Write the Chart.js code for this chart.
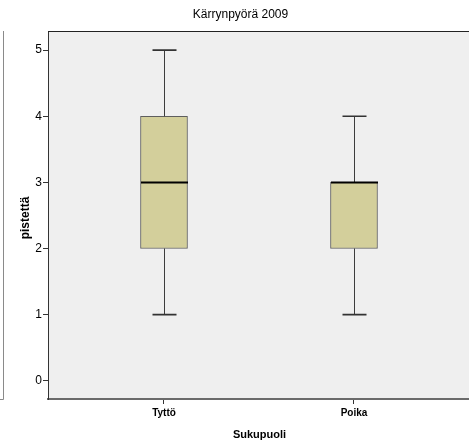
<!DOCTYPE html>
<html>
<head>
<meta charset="utf-8">
<script src="https://cdn.jsdelivr.net/npm/chart.js@4"></script>
<style>
  html, body { margin: 0; padding: 0; background: #ffffff; }
  #wrap { width: 469px; height: 446px; }
</style>
</head>
<body>
<div id="wrap"><canvas id="c" width="469" height="446"></canvas></div>
<script>
// Box plot summary per group
const categories = ['Tyttö', 'Poika'];
const minVals    = [1, 1];
const q1Vals     = [2, 2];
const medianVals = [3, 3];
const q3Vals     = [4, 3];
const maxVals    = [5, 4];
const yTicks     = [0, 1, 2, 3, 4, 5];

const chartTitle = 'Kärrynpyörä 2009';
const xTitle = 'Sukupuoli';
const yTitle = 'pistettä';

const FONT = "'Liberation Sans', Arial, sans-serif";
const NARROW = "'Liberation Sans Narrow', 'Liberation Sans', Arial, sans-serif";

// Plot background, frame, titles and the neighbouring panel edge
const framePlugin = {
  id: 'frame',
  beforeDraw(chart) {
    const { ctx, chartArea: a } = chart;
    ctx.save();
    ctx.fillStyle = '#efefef';
    ctx.fillRect(a.left, a.top, a.right - a.left, a.bottom - a.top);
    ctx.restore();
  },
  afterDraw(chart) {
    const { ctx, chartArea: a } = chart;
    ctx.save();
    // top edge of plot frame
    ctx.strokeStyle = '#222';
    ctx.lineWidth = 1;
    ctx.beginPath();
    ctx.moveTo(a.left, Math.round(a.top) + 0.5);
    ctx.lineTo(a.right, Math.round(a.top) + 0.5);
    ctx.stroke();
    // edge of the adjacent panel at far left
    ctx.strokeStyle = '#8a8a8a';
    ctx.beginPath();
    ctx.moveTo(3.5, Math.round(a.top));
    ctx.lineTo(3.5, Math.round(a.bottom) + 0.5);
    ctx.lineTo(0, Math.round(a.bottom) + 0.5);
    ctx.stroke();
    // titles
    ctx.fillStyle = '#000';
    ctx.textAlign = 'center';
    ctx.textBaseline = 'middle';
    ctx.font = '12px ' + FONT;
    ctx.fillText(chartTitle, 240.5, 15);
    ctx.font = 'bold 11px ' + FONT;
    ctx.fillText(xTitle, (a.left + a.right) / 2 + 1, 435);
    ctx.translate(26, 218);
    ctx.rotate(-Math.PI / 2);
    ctx.font = 'bold 12px ' + FONT;
    ctx.fillText(yTitle, 0, 0);
    ctx.restore();
  }
};

// Whiskers, caps and median lines, placed through the chart scales
const boxPlugin = {
  id: 'boxParts',
  afterDatasetsDraw(chart) {
    const { ctx, scales: { x, y } } = chart;
    const boxW = 47, capW = 24;
    ctx.save();
    categories.forEach((c, i) => {
      const cx = Math.round(x.getPixelForValue(i + 1)) + 0.5;
      const yMin = y.getPixelForValue(minVals[i]);
      const yQ1 = y.getPixelForValue(q1Vals[i]);
      const yMed = y.getPixelForValue(medianVals[i]);
      const yQ3 = y.getPixelForValue(q3Vals[i]);
      const yMax = y.getPixelForValue(maxVals[i]);
      // whisker stems
      ctx.strokeStyle = '#3c3c3c';
      ctx.lineWidth = 1;
      ctx.beginPath();
      ctx.moveTo(cx, yQ1); ctx.lineTo(cx, yMin);
      ctx.moveTo(cx, yQ3); ctx.lineTo(cx, yMax);
      ctx.stroke();
      // caps
      ctx.strokeStyle = '#333';
      ctx.lineWidth = 1.6;
      ctx.beginPath();
      ctx.moveTo(cx - capW / 2, yMin); ctx.lineTo(cx + capW / 2, yMin);
      ctx.moveTo(cx - capW / 2, yMax); ctx.lineTo(cx + capW / 2, yMax);
      ctx.stroke();
      // median
      ctx.strokeStyle = '#000';
      ctx.lineWidth = 2;
      ctx.beginPath();
      ctx.moveTo(cx - boxW / 2, yMed); ctx.lineTo(cx + boxW / 2, yMed);
      ctx.stroke();
    });
    ctx.restore();
  }
};

new Chart(document.getElementById('c'), {
  type: 'bar',
  data: {
    datasets: [{
      data: categories.map((c, i) => ({ x: i + 1, y: [q1Vals[i], q3Vals[i]] })),
      backgroundColor: '#d3cf9b',
      borderColor: '#5e5e5e',
      borderWidth: 1,
      borderSkipped: false,
      barThickness: 47
    }]
  },
  options: {
    responsive: false,
    animation: false,
    devicePixelRatio: 1,
    layout: { padding: { top: 31, right: 0, left: 0, bottom: 0 } },
    plugins: {
      legend: { display: false },
      title: { display: false },
      tooltip: { enabled: false }
    },
    scales: {
      x: {
        type: 'linear',
        offset: false,
        min: 0.3895,
        max: 2.6053,
        afterBuildTicks: s => { s.ticks = categories.map((c, i) => ({ value: i + 1 })); },
        afterFit: s => { s.height = 47; },
        grid: { offset: false, drawOnChartArea: false, drawTicks: true, tickLength: 5, color: '#333', lineWidth: 1 },
        border: { display: true, color: '#6a6a6a', width: 2 },
        ticks: {
          padding: 3,
          color: '#000',
          font: { family: FONT, size: 10, weight: 'bold' },
          callback: v => categories[Math.round(v) - 1]
        }
      },
      y: {
        type: 'linear',
        min: -0.277,
        max: 5.29,
        afterBuildTicks: s => { s.ticks = yTicks.map(v => ({ value: v })); },
        afterFit: s => { s.width = 48; },
        grid: { drawOnChartArea: false, drawTicks: true, tickLength: 5, color: '#333', lineWidth: 1 },
        border: { display: true, color: '#333', width: 1 },
        ticks: {
          padding: 1,
          color: '#000',
          font: { family: NARROW, size: 12 },
          callback: v => String(v)
        }
      }
    }
  },
  plugins: [framePlugin, boxPlugin]
});
</script>
</body>
</html>
